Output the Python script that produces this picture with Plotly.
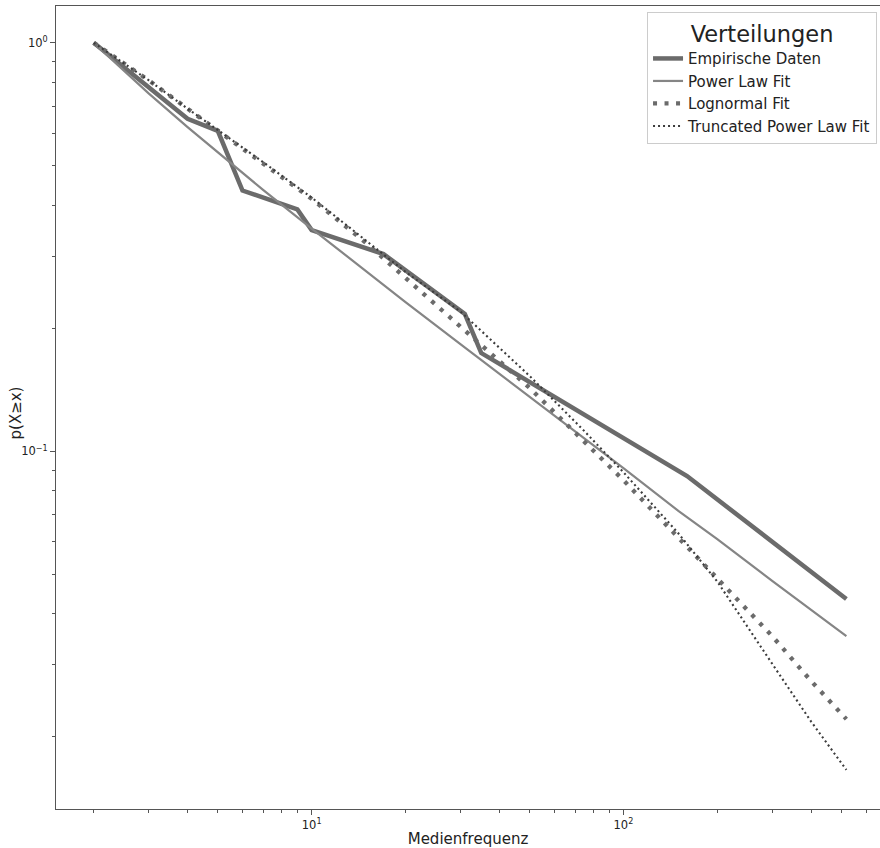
import plotly.graph_objects as go

# Empirical CCDF
emp_x = [2, 4, 5, 6, 9, 10, 17, 31, 35, 160, 519]
emp_y = [1.0, 0.652, 0.609, 0.435, 0.391, 0.348, 0.304, 0.217, 0.174, 0.087, 0.0435]

# Fit curves
fit_x = [2, 3, 4, 5, 7, 10, 15, 20, 30, 50, 75, 100, 150, 200, 300, 400, 519]
power_y = [1.0, 0.752, 0.622, 0.539, 0.436, 0.351, 0.275, 0.232, 0.183, 0.136, 0.107,
           0.091, 0.0715, 0.061, 0.0482, 0.0409, 0.0353]
lognorm_y = [1.0, 0.81, 0.69, 0.61, 0.508, 0.415, 0.323, 0.265, 0.202, 0.143, 0.106,
             0.085, 0.0615, 0.0489, 0.0353, 0.0274, 0.0221]
trunc_y = [1.0, 0.81, 0.69, 0.612, 0.51, 0.418, 0.328, 0.275, 0.220, 0.153, 0.112,
           0.0889, 0.063, 0.048, 0.0302, 0.0218, 0.0166]

names = ["Empirische Daten", "Power Law Fit", "Lognormal Fit", "Truncated Power Law Fit"]
x_title = "Medienfrequenz"
y_title = "p(X\u2265x)"

fig = go.Figure()
fig.add_trace(go.Scatter(x=emp_x, y=emp_y, mode="lines", name=names[0],
                         line=dict(color="#6b6b6b", width=4.5)))
fig.add_trace(go.Scatter(x=fit_x, y=power_y, mode="lines", name=names[1],
                         line=dict(color="#858585", width=2.2)))
fig.add_trace(go.Scatter(x=fit_x, y=lognorm_y, mode="lines", name=names[2],
                         line=dict(color="#6b6b6b", width=4.3, dash="4px,7.5px")))
fig.add_trace(go.Scatter(x=fit_x, y=trunc_y, mode="lines", name=names[3],
                         line=dict(color="#3c3c3c", width=2.1, dash="2px,3px")))

font = "DejaVu Sans, Liberation Sans, sans-serif"

x_minor = list(range(2, 10)) + list(range(20, 100, 10)) + list(range(200, 700, 100))
y_minor = [0.02, 0.03, 0.04, 0.05, 0.06, 0.07, 0.08, 0.09, 0.2, 0.3, 0.4, 0.5, 0.6, 0.7, 0.8, 0.9]

fig.update_layout(
    width=880, height=848,
    margin=dict(l=56, r=0, t=6, b=36),
    paper_bgcolor="white", plot_bgcolor="white",
    font=dict(family=font, color="#222", size=11),
    showlegend=True,
    legend=dict(
        x=0.9964, y=0.9926, xanchor="right", yanchor="top",
        bgcolor="rgba(255,255,255,0.9)", bordercolor="#cccccc", borderwidth=1,
        font=dict(family=font, size=15, color="#222"),
        title=dict(text="Verteilungen", font=dict(family=font, size=22.5, color="#222"),
                   side="top center"),
        itemwidth=30,
        tracegroupgap=0,
    ),
    xaxis=dict(
        type="log", range=[0.180, 2.823],
        showgrid=False, zeroline=False,
        showline=True, linecolor="#555", linewidth=1, mirror=True,
        ticks="outside", ticklen=5, tickcolor="#555",
        tickvals=[10, 100], ticktext=["10<sup>1</sup>", "10<sup>2</sup>"],
        tickfont=dict(family=font, size=11.5, color="#222"),
        minor=dict(ticks="outside", ticklen=3, tickcolor="#555", tickvals=x_minor, showgrid=False),
        title=dict(text=x_title, font=dict(family=font, size=15, color="#222"), standoff=6),
    ),
    yaxis=dict(
        type="log", range=[-1.8756, 0.0902],
        showgrid=False, zeroline=False,
        showline=True, linecolor="#555", linewidth=1,
        ticks="outside", ticklen=5, tickcolor="#555",
        tickvals=[1, 0.1], ticktext=["10<sup>0</sup>", "10<sup>\u22121</sup>"],
        tickfont=dict(family=font, size=11.5, color="#222"),
        minor=dict(ticks="outside", ticklen=3, tickcolor="#555", tickvals=y_minor, showgrid=False),
    ),
    annotations=[dict(
        text=y_title, textangle=-90, showarrow=False,
        xref="paper", yref="paper", x=-0.0485, y=0.4926,
        xanchor="center", yanchor="middle",
        font=dict(family=font, size=15, color="#222"),
    )],
)

fig.write_html("out.html", config={"displayModeBar": False},
               post_script="document.body.style.margin='0px';document.body.style.overflow='hidden';")
